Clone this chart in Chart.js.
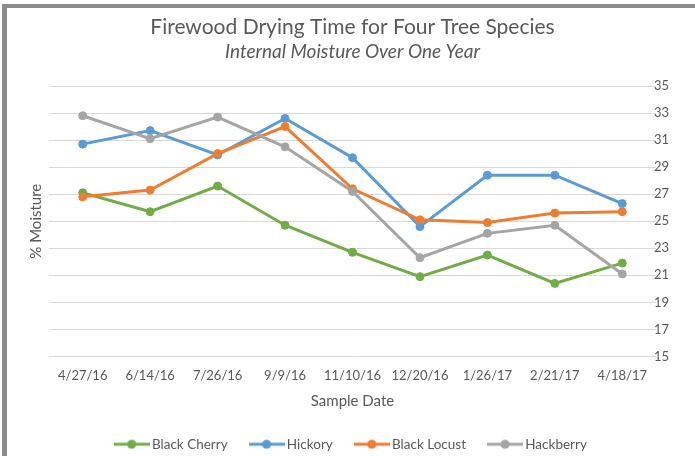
<!DOCTYPE html>
<html>
<head>
<meta charset="utf-8">
<title>Firewood Drying Time for Four Tree Species</title>
<script src="https://cdn.jsdelivr.net/npm/chart.js@4.4.1/dist/chart.umd.min.js"></script>
<style>
  html, body { margin: 0; padding: 0; background: #ffffff; }
  #wrap { position: relative; width: 695px; height: 456px; overflow: hidden; }
  #frame {
    position: absolute; left: 2px; top: 4px; width: 800px; height: 600px;
    border-left: 5px solid #8c8c8c; border-top: 4px solid #8c8c8c;
    pointer-events: none;
  }
  canvas { position: absolute; left: 0; top: 0; }
</style>
</head>
<body>
<div id="wrap">
  <canvas id="chart" width="695" height="456"></canvas>
  <div id="frame"></div>
</div>
<script>
// Sample dates (category axis)
const sampleDates = ['4/27/16', '6/14/16', '7/26/16', '9/9/16', '11/10/16', '12/20/16', '1/26/17', '2/21/17', '4/18/17'];

// Internal moisture (%) per species
const blackCherry = [27.1, 25.7, 27.6, 24.7, 22.7, 20.9, 22.5, 20.4, 21.9];
const hickory     = [30.7, 31.7, 29.9, 32.6, 29.7, 24.6, 28.4, 28.4, 26.3];
const blackLocust = [26.8, 27.3, 30.0, 32.0, 27.4, 25.1, 24.9, 25.6, 25.7];
const hackberry   = [32.8, 31.1, 32.7, 30.5, 27.2, 22.3, 24.1, 24.7, 21.1];

// Moisture axis range and tick step
const yMin = 15, yMax = 35, yStep = 2;

const TEXT = '#595959';
const FONT = 'Lato, "Liberation Sans", sans-serif';

// Legend marker: short line with a dot in the middle
function lineMarker(color) {
  const c = document.createElement('canvas');
  c.width = 36; c.height = 12;
  const g = c.getContext('2d');
  g.strokeStyle = color; g.lineWidth = 3; g.lineCap = 'butt';
  g.beginPath(); g.moveTo(0, 6); g.lineTo(36, 6); g.stroke();
  g.fillStyle = color;
  g.beginPath(); g.arc(18, 6, 4.6, 0, Math.PI * 2); g.fill();
  return c;
}

function series(label, data, color, order) {
  return {
    label, data, order,
    borderColor: color, backgroundColor: color,
    borderWidth: 3, pointRadius: 4, pointBorderWidth: 1,
    pointBackgroundColor: color, pointBorderColor: color,
    tension: 0, yAxisID: 'y',
    markerImg: lineMarker(color)
  };
}

// Later series are drawn on top
const datasets = [
  series('Black Cherry', blackCherry, '#70AD47', 3),
  series('Hickory', hickory, '#5B9BD5', 2),
  series('Black Locust', blackLocust, '#ED7D31', 1),
  series('Hackberry', hackberry, '#A5A5A5', 0)
];

new Chart(document.getElementById('chart'), {
  type: 'line',
  data: { labels: sampleDates, datasets },
  options: {
    responsive: false,
    animation: false,
    devicePixelRatio: 1,
    layout: { padding: { left: 23, right: 13, top: 0, bottom: -5 } },
    plugins: {
      tooltip: { enabled: false },
      title: {
        display: true,
        text: 'Firewood Drying Time for Four Tree Species',
        color: TEXT,
        font: { family: FONT, size: 21, weight: 'normal' },
        padding: { top: 15, bottom: 0 }
      },
      subtitle: {
        display: true,
        text: 'Internal Moisture Over One Year',
        color: TEXT,
        font: { family: FONT, size: 19, style: 'italic', weight: 'normal' },
        padding: { top: 0, bottom: 23 }
      },
      legend: {
        position: 'bottom',
        labels: {
          color: TEXT,
          font: { family: FONT, size: 13.5 },
          usePointStyle: true,
          pointStyleWidth: 27,
          padding: 25.5,
          sort: (a, b) => a.datasetIndex - b.datasetIndex,
          generateLabels: (chart) => chart.data.datasets.map((ds, i) => ({
            text: ds.label,
            datasetIndex: i,
            pointStyle: ds.markerImg,
            fillStyle: ds.borderColor,
            strokeStyle: ds.borderColor,
            fontColor: TEXT,
            lineWidth: 0,
            hidden: false
          }))
        }
      }
    },
    scales: {
      x: {
        type: 'category',
        offset: true,
        grid: { display: false, drawTicks: false },
        border: { display: false },
        ticks: {
          color: TEXT, font: { family: FONT, size: 13 },
          padding: 12, maxRotation: 0, autoSkip: false
        },
        title: {
          display: true, text: 'Sample Date', color: TEXT,
          font: { family: FONT, size: 15 }, padding: { top: -4, bottom: 2 }
        }
      },
      y: {
        type: 'linear',
        position: 'right',
        min: yMin, max: yMax,
        grid: { color: '#d9d9d9', lineWidth: 1, drawTicks: false },
        border: { display: false },
        ticks: {
          stepSize: yStep, mirror: true, padding: 13,
          color: TEXT, font: { family: FONT, size: 13 }
        }
      },
      yTitle: {
        type: 'linear',
        position: 'left',
        min: yMin, max: yMax,
        grid: { display: false, drawTicks: false },
        border: { display: false },
        ticks: { display: false },
        title: {
          display: true, text: '% Moisture', color: TEXT,
          font: { family: FONT, size: 15 }, padding: { top: 4, bottom: 4 }
        }
      }
    }
  }
});
</script>
</body>
</html>
